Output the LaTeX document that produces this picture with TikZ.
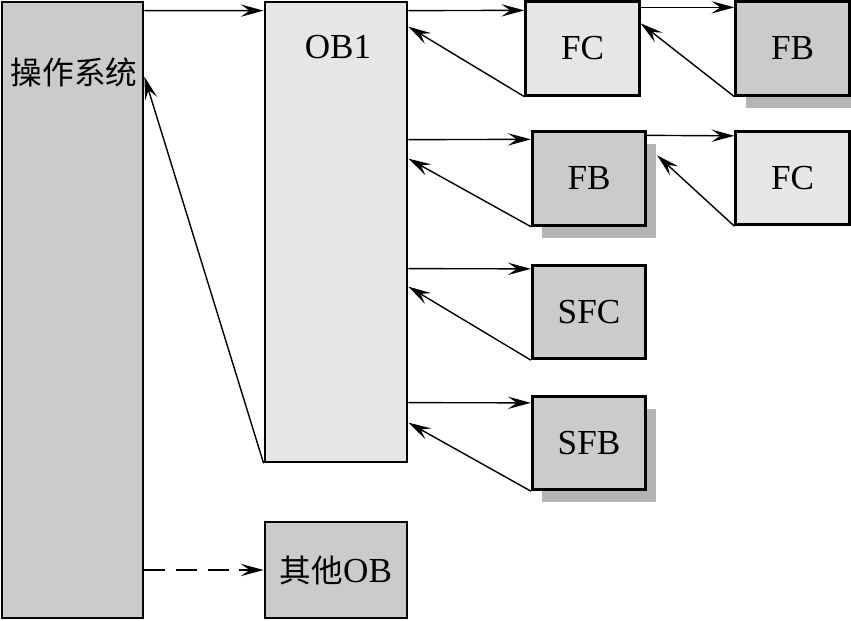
\documentclass[tikz,border=0pt]{standalone}
\usepackage{fontspec}
\setmainfont{Liberation Serif}
\newfontfamily\cjk{Noto Sans CJK SC}
\usetikzlibrary{calc,shadows,arrows.meta}
\definecolor{darkfill}{RGB}{203,203,203}
\definecolor{litefill}{RGB}{230,230,230}
\definecolor{shadegray}{RGB}{180,180,180}
\tikzset{
  blk/.style={draw, line width=1.6pt, inner sep=0pt, minimum width=2.27cm, minimum height=1.87cm, font=\fontsize{20}{24}\selectfont},
  lite/.style={blk, fill=litefill},
  dark/.style={blk, fill=darkfill},
  shd/.style={drop shadow={shadow xshift=0.2cm, shadow yshift=-0.25cm, fill=shadegray, opacity=1}},
  arr/.style={-{Stealth[length=13pt,width=7pt,inset=5pt]}, line width=0.8pt},
}
\begin{document}
\begin{tikzpicture}[x=0.02cm, y=-0.02cm]
    \useasboundingbox (0,0) rectangle (851,621);

    % Big blocks
    \node[dark, minimum width=2.82cm, minimum height=12.32cm] (os) at (72.5,310) {};
    \node[font=\cjk\fontsize{18}{22}\selectfont] (ostext) at (74,72) {操作系统};
    \node[lite, minimum width=2.84cm, minimum height=9.2cm] (ob1) at (336,232) {};
    \node[font=\fontsize{20}{24}\selectfont] (obtext) at (338,47) {OB1};
    \node[dark, minimum width=2.84cm, minimum height=1.92cm] (other) at (336,570) {{\cjk\fontsize{18}{22}\selectfont 其他}OB};

    % Called blocks
    \node[lite] (fc1) at (582.5,48.5) {FC};
    \node[dark, shd] (fb1) at (792.5,48.5) {FB};
    \node[dark, shd] (fb2) at (589,178.5) {FB};
    \node[lite] (fc2) at (792.5,178) {FC};
    \node[dark] (sfc) at (589,312) {SFC};
    \node[dark, shd] (sfb) at (589,443) {SFB};

    % Calls
    \draw[arr] ($(os.north east)+(0,10)$) -- ($(ob1.north west)+(0,10)$);
    \draw[arr] ($(ob1.north east)+(0,10)$) -- ($(fc1.north west)+(0,10)$);
    \draw[arr] ($(fc1.north east)+(0,7)$) -- ($(fb1.north west)+(0,7)$);
    \draw[arr] ($(ob1.north east)+(0,139)$) -- ($(fb2.north west)+(0,9)$);
    \draw[arr] ($(fb2.north east)+(0,5)$) -- ($(fc2.north west)+(0,6)$);
    \draw[arr] ($(ob1.north east)+(0,268)$) -- ($(sfc.north west)+(0,5)$);
    \draw[arr] ($(ob1.north east)+(0,402)$) -- ($(sfb.north west)+(0,8)$);
    \draw[arr, dashed, dash pattern=on 12pt off 6pt] (os.east |- other.west) -- (other.west);

    % Returns
    \draw[arr] (fc1.south west) -- ($(ob1.north east)+(0,26)$);
    \draw[arr] (fb1.south west) -- ($(fc1.north east)+(0,23)$);
    \draw[arr] (fb2.south west) -- ($(ob1.north east)+(0,158)$);
    \draw[arr] (fc2.south west) -- ($(fb2.north east)+(10,25)$);
    \draw[arr] (sfc.south west) -- ($(ob1.north east)+(0,286)$);
    \draw[arr] (sfb.south west) -- ($(ob1.north east)+(0,422)$);
    \draw[arr] (ob1.south west) -- ($(os.north east)+(0,76)$);
\end{tikzpicture}
\end{document}
